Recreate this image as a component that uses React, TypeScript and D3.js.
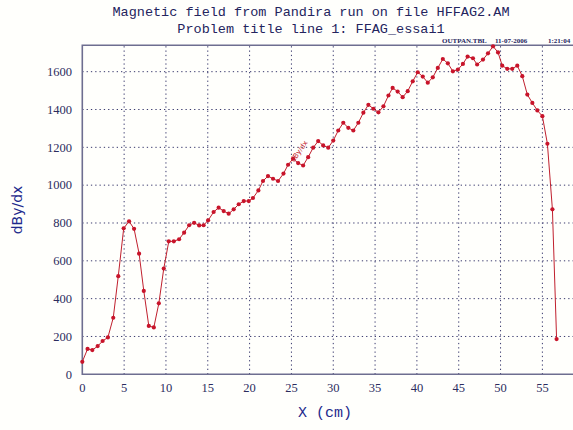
import React, { useEffect, useRef } from "react";
import * as d3 from "d3";

// x position along the magnet (cm)
const xCm = [
  0, 0.63, 1.2, 1.84, 2.43, 3.06, 3.7, 4.3, 4.95, 5.59, 6.19, 6.79, 7.35, 7.95,
  8.55, 9.15, 9.74, 10.34, 10.94, 11.57, 12.17, 12.77, 13.37, 13.97, 14.5,
  15.04, 15.7, 16.3, 16.9, 17.5, 18.1, 18.7, 19.3, 19.9, 20.4, 21.05, 21.6,
  22.2, 22.8, 23.4, 24.05, 24.6, 25.2, 25.8, 26.4, 27.0, 27.6, 28.2, 28.8, 29.4,
  30.0, 30.6, 31.2, 31.8, 32.4, 33.0, 33.6, 34.2, 34.8, 35.4, 36.0, 36.6, 37.1,
  37.7, 38.3, 38.9, 39.5, 40.1, 40.7, 41.3, 41.9, 42.5, 43.1, 43.7, 44.3, 44.9,
  45.5, 46.06, 46.7, 47.2, 47.9, 48.5, 49.1, 49.7, 50.2, 50.8, 51.4, 52.0, 52.6,
  53.2, 53.8, 54.4, 55.0, 55.6, 56.2, 56.7,
];

// dBy/dx values
const dBydx = [
  66, 134, 128, 149, 176, 195, 299, 519, 772, 809, 769, 638, 441, 256, 248, 375,
  559, 703, 703, 714, 749, 788, 801, 787, 788, 814, 858, 881, 863, 849, 872, 899,
  916, 916, 932, 972, 1022, 1048, 1034, 1022, 1061, 1108, 1140, 1117, 1104, 1148,
  1198, 1233, 1210, 1198, 1236, 1289, 1330, 1303, 1289, 1330, 1383, 1425, 1404,
  1385, 1417, 1474, 1514, 1495, 1465, 1497, 1549, 1597, 1574, 1542, 1570, 1620,
  1667, 1644, 1602, 1611, 1641, 1680, 1671, 1638, 1664, 1697, 1734, 1702, 1632,
  1615, 1615, 1632, 1576, 1479, 1435, 1395, 1365, 1219, 872, 186,
];

const xTicks = [0, 5, 10, 15, 20, 25, 30, 35, 40, 45, 50, 55];
const yTicks = [0, 200, 400, 600, 800, 1000, 1200, 1400, 1600];

const titleLines = [
  "Magnetic field from Pandira run on file HFFAG2.AM",
  "Problem title line 1: FFAG_essai1",
];
const stamp = ["OUTPAN.TBL", "11-07-2006", "1:21:04"];

const App: React.FC = () => {
  const chartRef = useRef<SVGSVGElement | null>(null);

  useEffect(() => {
    const width = 573;
    const height = 430;
    const left = 82.3;
    const top = 45.2;
    const bottom = 374.3;

    const svg = d3.select(chartRef.current);
    svg.selectAll("*").remove();
    svg.attr("width", width).attr("height", height);

    svg.append("rect").attr("width", width).attr("height", height).attr("fill", "#fffffc");

    const x = d3.scaleLinear().domain([0, 60]).range([left, left + 60 * 8.365]);
    const y = d3.scaleLinear().domain([0, 1740]).range([bottom, top]);

    const gridColor = "#3a3a6e";
    const axisColor = "#6e6e90";
    const textColor = "#2c2c5e";

    // grid
    svg
      .append("g")
      .selectAll("line")
      .data(xTicks.filter((d) => d > 0))
      .enter()
      .append("line")
      .attr("x1", (d) => x(d))
      .attr("x2", (d) => x(d))
      .attr("y1", bottom)
      .attr("y2", top)
      .attr("stroke", gridColor)
      .attr("stroke-width", 1)
      .attr("stroke-dasharray", "1.3,3");

    svg
      .append("g")
      .selectAll("line")
      .data(yTicks.filter((d) => d > 0))
      .enter()
      .append("line")
      .attr("x1", left)
      .attr("x2", width)
      .attr("y1", (d) => y(d))
      .attr("y2", (d) => y(d))
      .attr("stroke", gridColor)
      .attr("stroke-width", 1)
      .attr("stroke-dasharray", "1.3,3");

    // frame (right side falls outside the picture)
    svg
      .append("path")
      .attr("d", `M${width},${top}H${left}V${bottom}H${width}`)
      .attr("fill", "none")
      .attr("stroke", axisColor)
      .attr("stroke-width", 1.6);

    // tick labels
    svg
      .append("g")
      .selectAll("text")
      .data(xTicks)
      .enter()
      .append("text")
      .attr("x", (d) => x(d))
      .attr("y", 392)
      .attr("text-anchor", "middle")
      .attr("font-family", "'Liberation Serif', serif")
      .attr("font-size", 12.5)
      .attr("fill", textColor)
      .text((d) => d);

    svg
      .append("g")
      .selectAll("text")
      .data(yTicks)
      .enter()
      .append("text")
      .attr("x", 72)
      .attr("y", (d) => y(d) + 4.3)
      .attr("text-anchor", "end")
      .attr("font-family", "'Liberation Serif', serif")
      .attr("font-size", 12.5)
      .attr("fill", textColor)
      .text((d) => d);

    // axis titles
    svg
      .append("text")
      .attr("x", 325)
      .attr("y", 417)
      .attr("text-anchor", "middle")
      .attr("font-family", "'Liberation Mono', monospace")
      .attr("font-size", 15)
      .attr("fill", "#1e2a8c")
      .text("X (cm)");

    svg
      .append("text")
      .attr("transform", "translate(22,210) rotate(-90)")
      .attr("text-anchor", "middle")
      .attr("font-family", "'DejaVu Sans', sans-serif")
      .attr("font-size", 14)
      .attr("fill", "#1e2a8c")
      .text("dBy/dx");

    // titles
    svg
      .append("g")
      .selectAll("text")
      .data(titleLines)
      .enter()
      .append("text")
      .attr("x", 311)
      .attr("y", (_d, i) => 15.5 + i * 17)
      .attr("text-anchor", "middle")
      .attr("font-family", "'Liberation Mono', monospace")
      .attr("font-size", 13.5)
      .attr("fill", "#24245e")
      .text((d) => d);

    svg
      .append("g")
      .selectAll("text")
      .data(stamp)
      .enter()
      .append("text")
      .attr("x", (_d, i) => [442, 495, 548][i])
      .attr("y", 42.5)
      .attr("font-family", "'Liberation Serif', serif")
      .attr("font-size", 7)
      .attr("font-weight", "bold")
      .attr("fill", "#24245e")
      .text((d) => d);

    // data
    const points = xCm.map((v, i) => ({ x: v, y: dBydx[i] }));
    const line = d3
      .line<{ x: number; y: number }>()
      .x((d) => x(d.x))
      .y((d) => y(d.y));

    svg
      .append("path")
      .datum(points)
      .attr("fill", "none")
      .attr("stroke", "#c0202e")
      .attr("stroke-width", 1)
      .attr("d", line);

    svg
      .append("g")
      .selectAll("circle")
      .data(points)
      .enter()
      .append("circle")
      .attr("cx", (d) => x(d.x))
      .attr("cy", (d) => y(d.y))
      .attr("r", 2.1)
      .attr("fill", "#c8142a");

    // curve label
    svg
      .append("text")
      .attr("transform", `translate(${x(25.3)},${y(1130) + 2}) rotate(-55)`)
      .attr("font-family", "'DejaVu Sans', sans-serif")
      .attr("font-size", 7)
      .attr("fill", "#c0202e")
      .text("dBy/dx");
  }, []);

  return (
    <div style={{ position: "absolute", left: 0, top: 0 }}>
      <svg ref={chartRef} style={{ display: "block" }} />
    </div>
  );
};

export default App;
